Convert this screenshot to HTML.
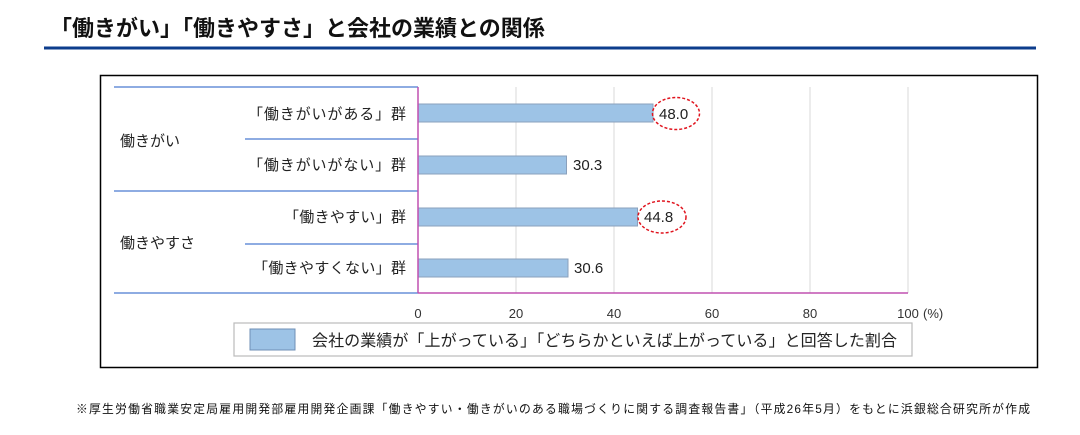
<!DOCTYPE html>
<html><head><meta charset="utf-8"><style>
html,body{margin:0;padding:0;background:#fff;}
svg{display:block;font-family:"Liberation Sans","Noto Sans CJK JP",sans-serif;}
</style></head><body>
<svg width="1080" height="435" viewBox="0 0 1080 435" xmlns="http://www.w3.org/2000/svg">
<text x="50" y="36" font-size="22" font-weight="bold" fill="#111">「働きがい」「働きやすさ」と会社の業績との関係</text>
<rect x="44" y="46.5" width="992" height="3" fill="#0d3d8c"/>
<rect x="100.5" y="75.5" width="937" height="292" fill="#fff" stroke="#000" stroke-width="1.5"/>
<g stroke="#d9d9d9" stroke-width="1">
<line x1="516" y1="87" x2="516" y2="293"/><line x1="614" y1="87" x2="614" y2="293"/>
<line x1="712" y1="87" x2="712" y2="293"/><line x1="810" y1="87" x2="810" y2="293"/>
<line x1="908" y1="87" x2="908" y2="293"/>
</g>
<g stroke="#4a7bd0" stroke-width="1.3">
<line x1="114" y1="87" x2="418" y2="87"/><line x1="245" y1="139" x2="418" y2="139"/>
<line x1="114" y1="191" x2="418" y2="191"/><line x1="245" y1="244" x2="418" y2="244"/>
<line x1="114" y1="293" x2="418" y2="293"/>
</g>
<g fill="#9dc3e6" stroke="#8aa0bc" stroke-width="1">
<rect x="418" y="104" width="235" height="18"/>
<rect x="418" y="156" width="148.5" height="18"/>
<rect x="418" y="208" width="219.5" height="18"/>
<rect x="418" y="259" width="150" height="18"/>
</g>
<line x1="418" y1="87" x2="418" y2="293" stroke="#c050b0" stroke-width="1.5"/>
<line x1="418" y1="293" x2="908" y2="293" stroke="#c050b0" stroke-width="1.5"/>
<g font-size="15" fill="#222">
<text x="120" y="146">働きがい</text>
<text x="120" y="248">働きやすさ</text>
<g text-anchor="end">
<text x="406" y="119" textLength="158">「働きがいがある」群</text>
<text x="406" y="170" textLength="158">「働きがいがない」群</text>
<text x="406" y="222" textLength="122">「働きやすい」群</text>
<text x="406" y="273" textLength="153">「働きやすくない」群</text>
</g>
<text x="659" y="119">48.0</text>
<text x="573" y="170">30.3</text>
<text x="644" y="222">44.8</text>
<text x="574" y="273">30.6</text>
</g>
<g fill="none" stroke="#e0141e" stroke-width="1.5" stroke-dasharray="3,2">
<ellipse cx="676" cy="113.5" rx="23.5" ry="16"/>
<ellipse cx="662" cy="217" rx="24" ry="16"/>
</g>
<g font-size="13" fill="#333" text-anchor="middle">
<text x="418" y="318">0</text><text x="516" y="318">20</text><text x="614" y="318">40</text>
<text x="712" y="318">60</text><text x="810" y="318">80</text><text x="908" y="318">100</text>
</g>
<text x="923" y="318" font-size="13" fill="#333">(%)</text>
<rect x="234" y="323" width="678" height="33" fill="#fff" stroke="#bbb" stroke-width="1.2"/>
<rect x="250" y="329" width="45" height="21" fill="#9dc3e6" stroke="#6f8fb5" stroke-width="1"/>
<text x="312" y="346" font-size="16" fill="#222" textLength="585">会社の業績が「上がっている」「どちらかといえば上がっている」と回答した割合</text>
<text x="76" y="413" font-size="11.8" fill="#111" textLength="954">※厚生労働省職業安定局雇用開発部雇用開発企画課「働きやすい・働きがいのある職場づくりに関する調査報告書」（平成26年5月）をもとに浜銀総合研究所が作成</text>
</svg>
</body></html>
